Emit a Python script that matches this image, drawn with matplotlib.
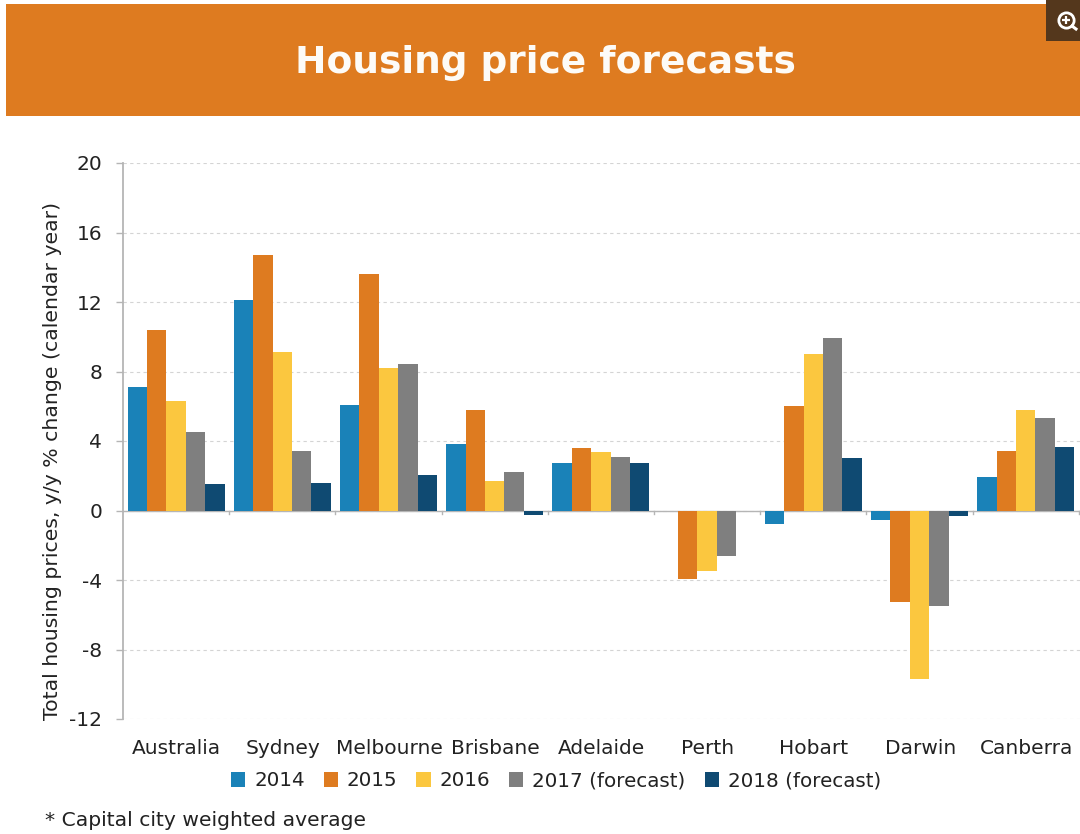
import matplotlib
matplotlib.use('Agg')
import matplotlib.pyplot as plt
from matplotlib.patches import Rectangle
from matplotlib.lines import Line2D
import numpy as np

plt.rcParams['font.family'] = ['DejaVu Sans']
plt.rcParams['axes.unicode_minus'] = False

categories = ['Australia', 'Sydney', 'Melbourne', 'Brisbane', 'Adelaide', 'Perth', 'Hobart', 'Darwin', 'Canberra']
s2014 = [7.1, 12.1, 6.1, 3.8, 2.75, -0.05, -0.8, -0.55, 1.9]
s2015 = [10.4, 14.7, 13.6, 5.8, 3.6, -3.95, 6.0, -5.25, 3.4]
s2016 = [6.3, 9.15, 8.2, 1.7, 3.35, -3.5, 9.0, -9.7, 5.8]
s2017 = [4.5, 3.4, 8.45, 2.2, 3.1, -2.6, 9.9, -5.5, 5.3]
s2018 = [1.5, 1.6, 2.05, -0.25, 2.75, 0.0, 3.0, -0.3, 3.65]
series_names = ['2014', '2015', '2016', '2017 (forecast)', '2018 (forecast)']
series_colors = ['#1a82b8', '#de7b20', '#fbc73f', '#7f7f7f', '#0f4a72']
yticks = [-12, -8, -4, 0, 4, 8, 12, 16, 20]
title = 'Housing price forecasts'
ylabel = 'Total housing prices, y/y % change (calendar year)'
footnote = '* Capital city weighted average'

W, H = 1080, 834
fig = plt.figure(figsize=(W/100, H/100), dpi=100, facecolor='white')

# banner
fig.add_artist(Rectangle((6/W, 1-116/H), (W-6)/W, 112/H, transform=fig.transFigure, color='#de7b20', lw=0))
fig.text(545/W, 1-63/H, title, color='#fdfbf7', fontsize=27, fontweight='bold', ha='center', va='center')
# magnifier icon in the corner
fig.add_artist(Rectangle((1046/W, 1-41/H), 34/W, 41/H, transform=fig.transFigure, color='#54371c', lw=0))
fig.add_artist(Line2D([1066/W], [1-20/H], marker='o', ms=11, mfc='none', mec='white', mew=2, transform=fig.transFigure))
fig.add_artist(Line2D([1072/W, 1076/W], [1-26/H, 1-29/H], color='white', lw=2.2, transform=fig.transFigure))
fig.add_artist(Line2D([1066/W], [1-20/H], marker='+', ms=6, mec='white', mew=1.6, transform=fig.transFigure))

left, right, top, bottom = 123, 1080, 163, 719
ax = fig.add_axes([left/W, 1-bottom/H, (right-left)/W, (bottom-top)/H])
ax.set_facecolor('none')
ax.set_ylim(-12, 20)
unit = 106.2
ax.set_xlim(0, (right-left)/unit)
x = np.arange(len(categories)) + 0.5
data = [s2014, s2015, s2016, s2017, s2018]
bw = 0.1825
for i, (vals, c, n) in enumerate(zip(data, series_colors, series_names)):
    ax.bar(x + (i-2)*bw, vals, bw, color=c, label=n, zorder=3, lw=0)

ax.set_yticks(yticks)
ax.tick_params(axis='y', labelsize=14.5, length=5, color='#b5b5b5', labelcolor='#222222', pad=10, width=1)
ax.yaxis.grid(True, ls=(0, (3, 3)), color='#d4d4d4', lw=0.8, zorder=0)
ax.set_axisbelow(True)
for s in ['top', 'right', 'bottom']:
    ax.spines[s].set_visible(False)
ax.spines['left'].set_color('#b5b5b5')
ax.spines['left'].set_linewidth(1.3)
ax.axhline(0, color='#b5b5b5', lw=1, zorder=2)
ax.set_xticks(np.arange(len(categories)+1), minor=False)
ax.set_xticklabels([''] * (len(categories)+1))
ax.tick_params(axis='x', length=0)
for xv in np.arange(1, len(categories)+1):
    ax.plot([xv, xv], [0, -0.22], color='#b5b5b5', lw=1, zorder=2)
for xc, name in zip(x, categories):
    ax.annotate(name, (xc, 0), xycoords=('data', 'axes fraction'), xytext=(0.5, -28), textcoords='offset points',
                ha='center', va='bottom', fontsize=14.5, color='#222222', annotation_clip=False)

fig.text(53/W, 1-461/H, ylabel, rotation=90, fontsize=14.7, color='#222222', ha='center', va='center')

handles, labels = ax.get_legend_handles_labels()
fig.legend(handles, labels, loc='center', bbox_to_anchor=(556/W, 1-781/H), ncol=5, frameon=False, fontsize=14.3,
           handlelength=0.72, handleheight=0.72, handletextpad=0.45, columnspacing=0.95, labelcolor='#222222')
fig.text(45/W, 1-820/H, footnote, fontsize=14.6, color='#222222', ha='left', va='center')

fig.savefig('out.png', dpi=100, facecolor=fig.get_facecolor())
